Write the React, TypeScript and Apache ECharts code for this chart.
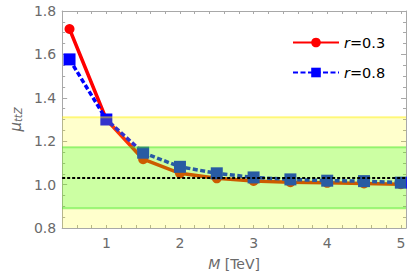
import React, { useEffect, useRef } from "react";
import * as echarts from "echarts";

const massTeV = [0.5, 1, 1.5, 2, 2.5, 3, 3.5, 4, 4.5, 5];
const muR03 = [1.717, 1.3, 1.117, 1.052, 1.029, 1.017, 1.011, 1.008, 1.005, 1.002];
const muR08 = [1.577, 1.3, 1.147, 1.082, 1.052, 1.033, 1.024, 1.018, 1.016, 1.009];
const seriesNames = ["r=0.3", "r=0.8"];
const centralValue = 1.032;
const band1 = [0.891, 1.172];
const band2 = [0.75, 1.31];

const FONT = "DejaVu Sans";
const AXIS_COLOR = "#a8a8a8";
const LABEL_COLOR = "#6a6a6a";

export default function App() {
  const ref = useRef<HTMLDivElement>(null);
  useEffect(() => {
    if (!ref.current) return;
    const chart = echarts.init(ref.current, undefined, { renderer: "svg" });
    const intLabel = (v: number) =>
      Math.abs(v - Math.round(v)) < 1e-6 ? String(Math.round(v)) : "";
    const xCommon = {
      type: "value" as const,
      min: 0.4,
      max: 5.07,
      interval: 0.2,
      axisLine: { show: true, lineStyle: { color: AXIS_COLOR, width: 1 } },
      axisTick: { show: true, inside: true, length: 3, lineStyle: { color: AXIS_COLOR } },
      splitLine: { show: false },
    };
    const yCommon = {
      type: "value" as const,
      min: 0.8,
      max: 1.8,
      interval: 0.2,
      axisLine: { show: true, lineStyle: { color: AXIS_COLOR, width: 1 } },
      axisTick: { show: true, inside: true, length: 5, lineStyle: { color: AXIS_COLOR } },
      minorTick: { show: true, splitNumber: 4, length: 3, lineStyle: { color: AXIS_COLOR } },
      splitLine: { show: false },
      minorSplitLine: { show: false },
    };
    const bands = [
      { lo: Math.max(band2[0], 0.8), hi: band2[1], color: "rgba(255,255,0,0.2)", edge: "rgba(255,240,0,0.45)", edgeLo: false },
      { lo: band1[0], hi: band1[1], color: "rgba(0,255,0,0.2)", edge: "rgba(60,230,30,0.45)", edgeLo: true },
    ];
    chart.setOption({
      animation: false,
      backgroundColor: "#ffffff",
      grid: { left: 53, right: 3, top: 11, bottom: 50 },
      legend: {
        orient: "vertical",
        left: 287,
        top: 30,
        itemWidth: 46,
        itemHeight: 12,
        itemGap: 15,
        data: seriesNames,
        textStyle: {
          fontFamily: FONT,
          fontSize: 14,
          color: "#000",
          rich: {
            i: { fontFamily: FONT, fontSize: 14.5, fontStyle: "italic", color: "#000" },
            n: { fontFamily: FONT, fontSize: 14.5, color: "#000" },
          },
        },
        formatter: (name: string) => "{i|r}{n|" + name.slice(1) + "}",
      },
      xAxis: [
        {
          ...xCommon,
          position: "bottom",
          name: "{i|M} [TeV]",
          nameLocation: "middle",
          nameGap: 29,
          nameTextStyle: {
            fontFamily: FONT,
            fontSize: 14,
            color: LABEL_COLOR,
            rich: { i: { fontFamily: FONT, fontSize: 14, fontStyle: "italic", color: LABEL_COLOR } },
          },
          axisLabel: {
            show: true,
            margin: 8,
            fontFamily: FONT,
            fontSize: 14,
            color: LABEL_COLOR,
            showMinLabel: false,
            showMaxLabel: false,
            formatter: intLabel,
          },
        },
        {
          ...xCommon,
          position: "top",
          axisLabel: { show: false },
        },
      ],
      yAxis: [
        {
          ...yCommon,
          position: "left",
          name: "{m|μ}{s|ttZ}",
          nameLocation: "middle",
          nameRotate: 90,
          nameGap: 30,
          nameTextStyle: {
            fontFamily: FONT,
            color: LABEL_COLOR,
            rich: {
              m: { fontFamily: FONT, fontSize: 15, fontStyle: "italic", color: LABEL_COLOR, verticalAlign: "bottom" },
              s: { fontFamily: FONT, fontSize: 10, fontStyle: "italic", color: LABEL_COLOR, padding: [7, 0, 0, 0], verticalAlign: "bottom" },
            },
          },
          axisLabel: {
            show: true,
            margin: 6,
            fontFamily: FONT,
            fontSize: 14,
            color: LABEL_COLOR,
            formatter: (v: number) => v.toFixed(1),
          },
        },
        {
          ...yCommon,
          position: "right",
          axisLabel: { show: false },
        },
      ],
      series: [
        {
          name: seriesNames[0],
          type: "line",
          data: massTeV.map((m, i) => [m, muR03[i]]),
          symbol: "circle",
          symbolSize: 10,
          showSymbol: true,
          itemStyle: { color: "#ff0000" },
          lineStyle: { color: "#ff0000", width: 3.5 },
          z: 2,
        },
        {
          name: seriesNames[1],
          type: "line",
          data: massTeV.map((m, i) => [m, muR08[i]]),
          symbol: "rect",
          symbolSize: 12,
          showSymbol: true,
          itemStyle: { color: "#0000ff" },
          lineStyle: { color: "#0000ff", width: 3.5, type: [5, 2.5] },
          z: 3,
        },
        {
          name: "bands",
          type: "custom",
          silent: true,
          z: 8,
          clip: true,
          data: bands.map((b, i) => [i, b.lo, b.hi]),
          renderItem: (params: any, api: any) => {
            const b = bands[api.value(0)];
            const cs = params.coordSys;
            const yTop = api.coord([0.4, b.hi])[1];
            const yBot = api.coord([0.4, b.lo])[1];
            const children: any[] = [
              {
                type: "rect",
                shape: { x: cs.x, y: yTop, width: cs.width, height: yBot - yTop },
                style: { fill: b.color },
              },
              {
                type: "line",
                shape: { x1: cs.x, y1: yTop, x2: cs.x + cs.width, y2: yTop },
                style: { stroke: b.edge, lineWidth: 2 },
              },
            ];
            if (b.edgeLo) {
              children.push({
                type: "line",
                shape: { x1: cs.x, y1: yBot, x2: cs.x + cs.width, y2: yBot },
                style: { stroke: b.edge, lineWidth: 2 },
              });
            }
            return { type: "group", children };
          },
        },
        {
          name: "central",
          type: "line",
          data: [],
          silent: true,
          z: 9,
          markLine: {
            silent: true,
            symbol: "none",
            label: { show: false },
            z: 9,
            data: [{ yAxis: centralValue, lineStyle: { color: "#000", width: 2, type: [3, 2] } }],
          },
        },
      ],
    });
    return () => chart.dispose();
  }, []);
  return <div ref={ref} style={{ width: 409, height: 278, position: "fixed", left: 0, top: 0 }} />;
}
